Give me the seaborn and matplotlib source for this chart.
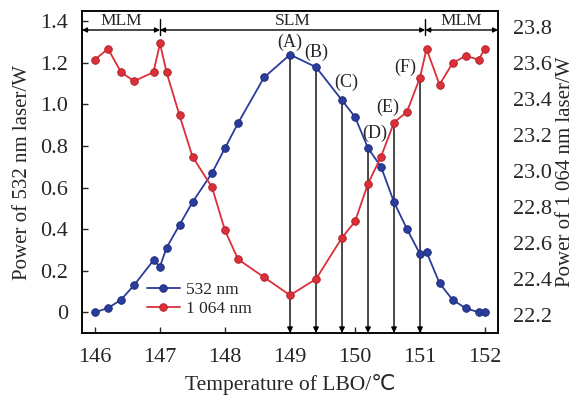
import matplotlib
matplotlib.use("Agg")
import matplotlib.pyplot as plt
from matplotlib.lines import Line2D
import seaborn as sns
import pandas as pd

# LBO crystal temperature (°C)
temperature = [146.0, 146.2, 146.4, 146.6, 146.9, 147.0, 147.1, 147.3, 147.5,
               147.8, 148.0, 148.2, 148.6, 149.0, 149.4, 149.8, 150.0, 150.2,
               150.4, 150.6, 150.8, 151.0, 151.1, 151.3, 151.5, 151.7, 151.9, 152.0]
# 532 nm output power (W)
power_532 = [0.00, 0.02, 0.06, 0.13, 0.25, 0.22, 0.31, 0.42, 0.53,
             0.67, 0.79, 0.91, 1.13, 1.24, 1.18, 1.02, 0.94, 0.79,
             0.70, 0.53, 0.40, 0.28, 0.29, 0.14, 0.06, 0.02, 0.00, 0.00]
# 1 064 nm output power (W)
power_1064 = [23.62, 23.68, 23.55, 23.50, 23.55, 23.71, 23.55, 23.31, 23.08,
              22.91, 22.67, 22.51, 22.41, 22.31, 22.40, 22.63, 22.72, 22.93,
              23.08, 23.27, 23.33, 23.52, 23.68, 23.48, 23.60, 23.64, 23.62, 23.68]

# marked operating points: label, temperature, which curve the drop line starts from
point_labels = ["(A)", "(B)", "(C)", "(D)", "(E)", "(F)"]
point_temps = [149.0, 149.4, 149.8, 150.2, 150.6, 151.0]
point_curve = ["532", "532", "532", "532", "1064", "1064"]
label_x = [149.0, 149.41, 149.87, 150.31, 150.51, 150.78]
label_y = [1.30, 1.25, 1.105, 0.86, 0.985, 1.18]

# longitudinal-mode regions
region_names = ["MLM", "SLM", "MLM"]
region_edges = [145.8, 147.0, 151.08, 152.2]

left_ticks = [0, 0.2, 0.4, 0.6, 0.8, 1.0, 1.2, 1.4]
left_ticklabels = ["0", "0.2", "0.4", "0.6", "0.8", "1.0", "1.2", "1.4"]
right_ticks = [22.2, 22.4, 22.6, 22.8, 23.0, 23.2, 23.4, 23.6, 23.8]
x_ticks = [146, 147, 148, 149, 150, 151, 152]

sns.set_style("ticks")
plt.rcParams["font.family"] = ["Liberation Serif", "DejaVu Sans"]

BLUE = "#2a3c9c"
RED = "#dc2f38"

df = pd.DataFrame({"T": temperature, "P532": power_532, "P1064": power_1064})

fig = plt.figure(figsize=(5.82, 3.97), dpi=100)
ax = fig.add_axes([0.1409, 0.1612, 0.7148, 0.8111])
ax2 = ax.twinx()

mk = dict(marker="o", markersize=5.5, linewidth=1.3, markeredgewidth=0.6,
          legend=False, zorder=3)
sns.lineplot(data=df, x="T", y="P532", ax=ax, color=BLUE,
             markeredgecolor="#1c2870", **mk)
sns.lineplot(data=df, x="T", y="P1064", ax=ax2, color=RED,
             markeredgecolor="#a8202a", **mk)

ax.set_xlim(145.8, 152.2)
ax.set_ylim(-0.1, 1.45)
ax2.set_ylim(22.1, 23.89)

ax.set_xticks(x_ticks)
ax.set_yticks(left_ticks)
ax.set_yticklabels(left_ticklabels)
ax2.set_yticks(right_ticks)
ax2.set_yticklabels([f"{v:.1f}" for v in right_ticks])

ax.tick_params(axis="y", direction="in", length=4, width=1, labelsize=16, pad=10)
ax.tick_params(axis="x", direction="in", length=4, width=1, labelsize=16, pad=11)
ax2.tick_params(axis="y", direction="in", length=0, labelsize=16, pad=11)

for a in (ax, ax2):
    for s in a.spines.values():
        s.set_linewidth(1.1)
        s.set_color("black")

ax.set_xlabel("Temperature of LBO/℃", fontsize=15.5, labelpad=5)
ax.set_ylabel("Power of 532 nm laser/W", fontsize=15, labelpad=6)
ax2.set_ylabel("Power of 1 064 nm laser/W", fontsize=15, labelpad=3)

# drop lines from the marked points to the temperature axis
lookup_532 = dict(zip(temperature, power_532))
lookup_1064 = dict(zip(temperature, power_1064))
for t, curve in zip(point_temps, point_curve):
    if curve == "532":
        start, coords = (t, lookup_532[t]), ax.transData
    else:
        start, coords = (t, lookup_1064[t]), ax2.transData
    ax.annotate("", xy=(t, 0), xycoords=("data", "axes fraction"),
                xytext=start, textcoords=coords,
                arrowprops=dict(arrowstyle="-|>", color="black", lw=1.0,
                                mutation_scale=8, shrinkA=0, shrinkB=0),
                zorder=2)
for lab, lx, ly in zip(point_labels, label_x, label_y):
    ax.text(lx, ly, lab, ha="center", va="center", fontsize=13, zorder=5)

# mode region band along the top
band_y = 0.941
for i, name in enumerate(region_names):
    x0, x1 = region_edges[i], region_edges[i + 1]
    ax.annotate("", xy=(x1, band_y), xycoords=("data", "axes fraction"),
                xytext=(x0, band_y), textcoords=("data", "axes fraction"),
                arrowprops=dict(arrowstyle="<|-|>", color="black", lw=1.0,
                                mutation_scale=7, shrinkA=0, shrinkB=0))
    ax.text((x0 + x1) / 2, 0.968, name, transform=ax.get_xaxis_transform(),
            ha="center", va="center", fontsize=12.5)
for edge in region_edges[1:-1]:
    ax.plot([edge, edge], [0.925, 0.975], transform=ax.get_xaxis_transform(),
            color="black", lw=1.0, clip_on=False)

handles = [
    Line2D([], [], color=BLUE, marker="o", markersize=5.5, lw=1.3,
           markeredgewidth=0.6, markeredgecolor="#1c2870"),
    Line2D([], [], color=RED, marker="o", markersize=5.5, lw=1.3,
           markeredgewidth=0.6, markeredgecolor="#a8202a"),
]
ax.legend(handles, ["532 nm", "1 064 nm"], loc="center left",
          bbox_to_anchor=(0.118, 0.105), frameon=False, fontsize=12.5,
          handlelength=1.9, handletextpad=0.35, labelspacing=0.15)

fig.savefig("out.png", dpi=100)
